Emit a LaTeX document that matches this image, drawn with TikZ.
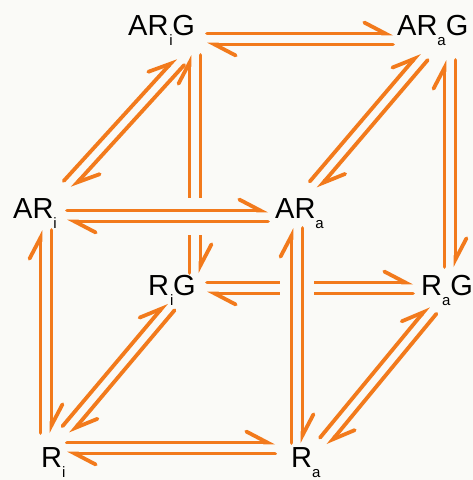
\documentclass[tikz,border=0pt]{standalone}
\usepackage{fontspec}
\setmainfont{Liberation Sans}
\usetikzlibrary{arrows.meta,calc}
\definecolor{eqorange}{RGB}{242,122,28}
\definecolor{bgpaper}{RGB}{250,250,247}
\newcommand\subsc[1]{{\fontsize{15}{15}\selectfont\raisebox{-10pt}{#1}}}
\newcommand\subover[1]{\rlap{\kern1pt\fontsize{15}{15}\selectfont\raisebox{-10pt}{#1}}\kern4pt}
\newcommand\eqpair[6]{%
  \pgfmathsetmacro\sA{#4+5.5}\pgfmathsetmacro\sB{#4-5.5}%
  \pgfmathsetmacro\eA{#6+5.5}\pgfmathsetmacro\eB{#6-5.5}%
  \draw[harp] ($(#1)!#3pt!(#2)!\sA pt!90:(#2)$) -- ($(#2)!#5pt!(#1)!\eA pt!-90:(#1)$);
  \draw[harp] ($(#2)!#5pt!(#1)!\eB pt!-90:(#1)$) -- ($(#1)!#3pt!(#2)!\sB pt!90:(#2)$);
}
\tikzset{
  harp/.style={draw=eqorange, line width=3.8pt, line cap=round,
    -{Straight Barb[left, length=21pt, width=22pt, line cap=round]}},
  lbl/.style={inner sep=0pt, anchor=base west, font=\fontsize{29}{29}\selectfont},
  gap/.style={draw=bgpaper, line width=34pt}
}
\begin{document}
\begin{tikzpicture}[x=1pt,y=-1pt]
\fill[bgpaper] (0,0) rectangle (473,480);
\useasboundingbox (0,0) rectangle (473,480);
% hubs
\coordinate (ARiGh) at (195,39);
\coordinate (ARaGh) at (450,39);
\coordinate (ARih) at (46,216);
\coordinate (ARah) at (297,216);
\coordinate (RiGh) at (195,288);
\coordinate (RaGh) at (450,288);
\coordinate (Rih) at (46,448);
\coordinate (Rah) at (297,448);
% labels
\node[lbl] (ARiG) at (128,35) {AR\subover{i}G};
\node[lbl] (ARaG) at (397,35) {AR\subsc{a}G};
\node[lbl] (ARi) at (13,218) {AR\subsc{i}};
\node[lbl] (ARa) at (275,218) {AR\subsc{a}};
\node[lbl] (RiG) at (148,295) {R\subover{i}G};
\node[lbl] (RaG) at (421,295) {R\subsc{a}G};
\node[lbl] (Ri) at (41,467) {R\subsc{i}};
\node[lbl] (Ra) at (291,467) {R\subsc{a}};
% back edges
\eqpair{ARiGh}{ARaGh}{12}{0}{57}{0}
\eqpair{RiGh}{RaGh}{12}{0}{37}{0}
\eqpair{RiGh}{ARiGh}{15}{0}{16}{0}
\eqpair{RaGh}{ARaGh}{21}{0}{21}{0}
% diagonals
\eqpair{ARih}{ARiGh}{38.3}{3.5}{26.9}{-3.0}
\eqpair{ARah}{ARaGh}{34.5}{7.4}{30.5}{8.6}
\eqpair{Rih}{RiGh}{27.2}{-2.7}{30.2}{5.3}
\eqpair{Rah}{RaGh}{23.4}{-15.0}{28.0}{-2.5}
% gaps at crossings
\draw[gap, line width=37pt] ($(ARih)!134pt!(ARah)$) -- ($(ARih)!164pt!(ARah)$);
\draw[gap] ($(Rah)!145pt!(ARah)$) -- ($(Rah)!175pt!(ARah)$);
% front edges
\eqpair{ARih}{ARah}{21}{0}{29}{0}
\eqpair{Rih}{Rah}{21}{0}{22}{0}
\eqpair{Rih}{ARih}{15}{0}{14}{0}
\eqpair{Rah}{ARah}{5}{0}{12}{0}
\end{tikzpicture}
\end{document}
